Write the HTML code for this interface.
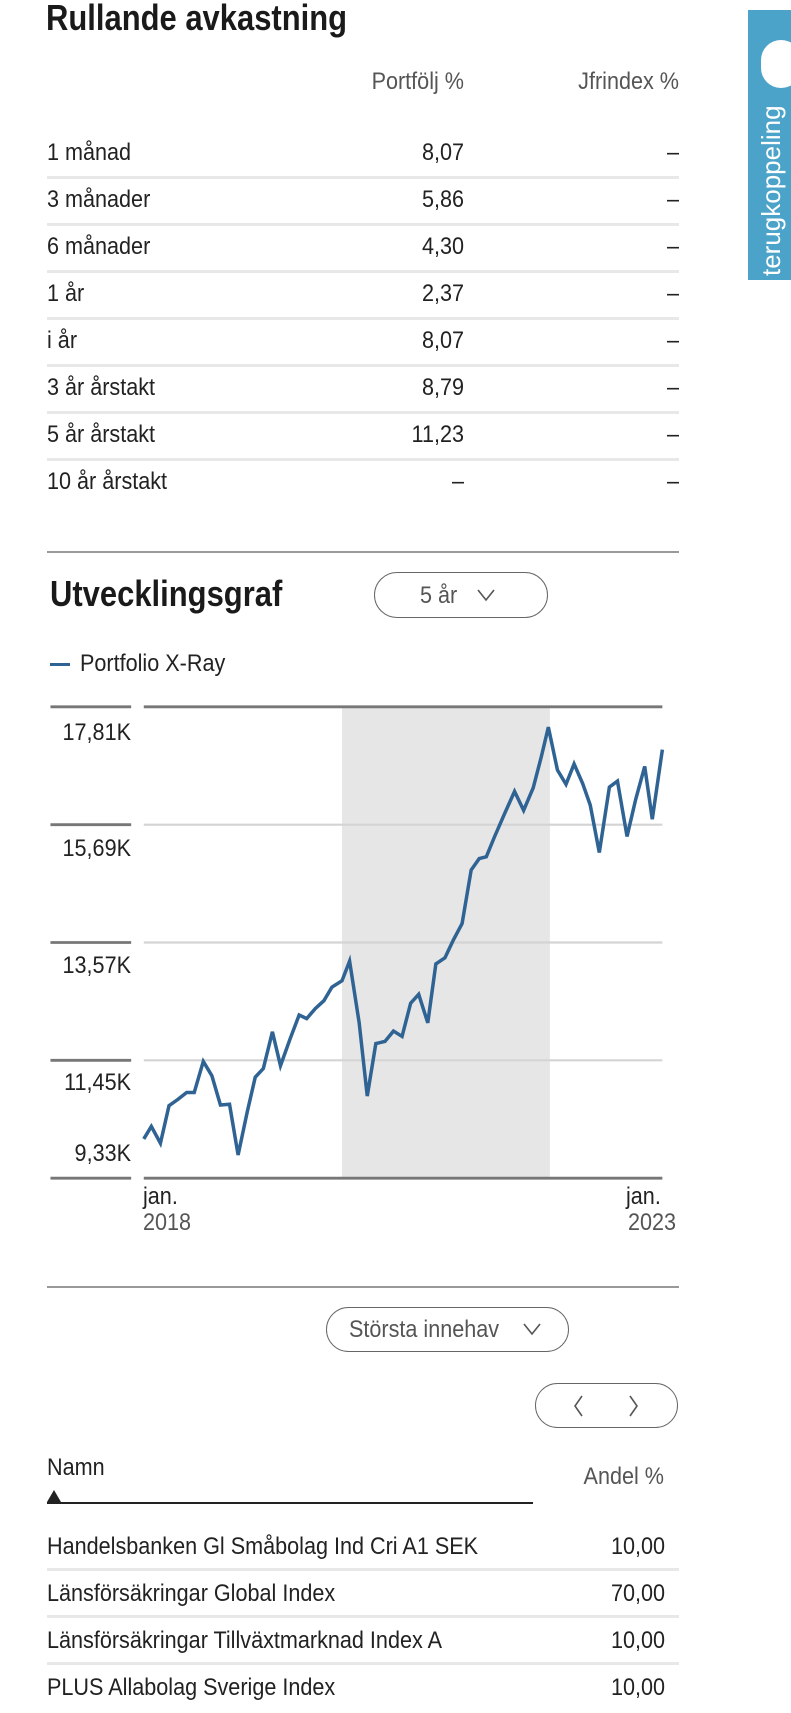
<!DOCTYPE html>
<html><head><meta charset="utf-8">
<style>
*{margin:0;padding:0;box-sizing:border-box}
body{width:791px;height:1713px;background:#fff;position:relative;overflow:hidden;font-family:"Liberation Sans",sans-serif;color:#222}
.a{position:absolute;white-space:nowrap;line-height:1}
.t{font-size:24px;transform:scaleX(.9);transform-origin:0 0}
.g{color:#555}
.r{text-align:right;transform-origin:100% 0}
.sep{position:absolute;left:47px;width:632px;height:3px;background:#e8e8e8}
.h{font-weight:bold;font-size:36px;color:#1a1a1a;transform:scaleX(.86);transform-origin:0 0}
.pill{position:absolute;border:1.5px solid #666;border-radius:24px}
</style></head><body>
<div class="a h" style="left:46px;top:0px">Rullande avkastning</div>
<div class="a t g r" style="left:300px;width:164px;top:70px">Portfölj %</div>
<div class="a t g r" style="left:500px;width:179px;top:70px">Jfrindex %</div>

<div class="a t" style="left:47px;top:141px">1 månad</div><div class="a t r" style="left:364px;width:100px;top:141px">8,07</div><div class="a t r" style="left:600px;width:79px;top:141px">–</div>
<div class="sep" style="top:176px"></div>
<div class="a t" style="left:47px;top:188px">3 månader</div><div class="a t r" style="left:364px;width:100px;top:188px">5,86</div><div class="a t r" style="left:600px;width:79px;top:188px">–</div>
<div class="sep" style="top:223px"></div>
<div class="a t" style="left:47px;top:235px">6 månader</div><div class="a t r" style="left:364px;width:100px;top:235px">4,30</div><div class="a t r" style="left:600px;width:79px;top:235px">–</div>
<div class="sep" style="top:270px"></div>
<div class="a t" style="left:47px;top:282px">1 år</div><div class="a t r" style="left:364px;width:100px;top:282px">2,37</div><div class="a t r" style="left:600px;width:79px;top:282px">–</div>
<div class="sep" style="top:317px"></div>
<div class="a t" style="left:47px;top:329px">i år</div><div class="a t r" style="left:364px;width:100px;top:329px">8,07</div><div class="a t r" style="left:600px;width:79px;top:329px">–</div>
<div class="sep" style="top:364px"></div>
<div class="a t" style="left:47px;top:376px">3 år årstakt</div><div class="a t r" style="left:364px;width:100px;top:376px">8,79</div><div class="a t r" style="left:600px;width:79px;top:376px">–</div>
<div class="sep" style="top:411px"></div>
<div class="a t" style="left:47px;top:423px">5 år årstakt</div><div class="a t r" style="left:364px;width:100px;top:423px">11,23</div><div class="a t r" style="left:600px;width:79px;top:423px">–</div>
<div class="sep" style="top:458px"></div>
<div class="a t" style="left:47px;top:470px">10 år årstakt</div><div class="a t r" style="left:364px;width:100px;top:470px">–</div><div class="a t r" style="left:600px;width:79px;top:470px">–</div>

<div style="position:absolute;left:47px;top:551px;width:632px;height:2px;background:#999"></div>

<div class="a h" style="left:50px;top:576px">Utvecklingsgraf</div>
<div class="pill" style="left:374px;top:572px;width:174px;height:46px"></div>
<div class="a t g" style="left:420px;top:584px">5 år</div>
<svg style="position:absolute;left:476px;top:588px" width="20" height="14"><polyline points="2,2 10,12 18,2" fill="none" stroke="#555" stroke-width="1.6"/></svg>

<div style="position:absolute;left:50px;top:663px;width:20px;height:3px;background:#2f6393"></div>
<div class="a t" style="left:80px;top:652px">Portfolio X-Ray</div>

<svg style="position:absolute;left:0;top:680px" width="791" height="560" viewBox="0 0 1568 1568" preserveAspectRatio="none">
<rect x="678" y="75" width="412" height="1320" fill="#e6e6e6"/>
<g stroke="#d4d4d4" stroke-width="6"><line x1="285" y1="405" x2="1313" y2="405"/><line x1="285" y1="735" x2="1313" y2="735"/><line x1="285" y1="1065" x2="1313" y2="1065"/></g>
<g stroke="#777" stroke-width="8"><line x1="285" y1="75" x2="1313" y2="75"/><line x1="285" y1="1395" x2="1313" y2="1395"/>
<line x1="100" y1="75" x2="260" y2="75"/><line x1="100" y1="405" x2="260" y2="405"/><line x1="100" y1="735" x2="260" y2="735"/><line x1="100" y1="1065" x2="260" y2="1065"/><line x1="100" y1="1395" x2="260" y2="1395"/></g>
<polyline fill="none" stroke="#2f6393" vector-effect="non-scaling-stroke" points="285,1285 300,1250 318,1297 335,1192 352,1175 370,1155 385,1155 403,1068 420,1108 437,1190 455,1188 472,1330 490,1210 506,1112 522,1088 540,985 556,1080 575,1005 593,938 608,948 625,920 642,898 658,860 678,842 693,787 712,960 728,1165 745,1018 763,1012 780,983 797,998 814,905 830,880 848,960 864,795 882,778 898,730 916,682 934,532 950,500 964,495 980,440 1000,375 1020,312 1038,365 1057,302 1073,215 1087,132 1105,252 1122,292 1138,235 1155,290 1170,350 1188,483 1208,300 1224,283 1243,438 1260,335 1278,242 1293,390 1313,195" style="stroke-width:3.5px"/>
</svg>
<div class="a t r" style="left:30px;width:101px;top:721px">17,81K</div>
<div class="a t r" style="left:30px;width:101px;top:837px">15,69K</div>
<div class="a t r" style="left:30px;width:101px;top:954px">13,57K</div>
<div class="a t r" style="left:30px;width:101px;top:1071px">11,45K</div>
<div class="a t r" style="left:30px;width:101px;top:1142px">9,33K</div>
<div class="a t" style="left:143px;top:1185px">jan.</div>
<div class="a t g" style="left:143px;top:1211px">2018</div>
<div class="a t" style="left:626px;top:1185px">jan.</div>
<div class="a t g" style="left:628px;top:1211px">2023</div>

<div style="position:absolute;left:47px;top:1286px;width:632px;height:2px;background:#999"></div>

<div class="pill" style="left:326px;top:1307px;width:243px;height:45px"></div>
<div class="a t g" style="left:349px;top:1318px">Största innehav</div>
<svg style="position:absolute;left:522px;top:1322px" width="20" height="14"><polyline points="2,2 10,12 18,2" fill="none" stroke="#555" stroke-width="1.6"/></svg>

<div class="pill" style="left:535px;top:1383px;width:143px;height:45px"></div>
<svg style="position:absolute;left:570px;top:1393px" width="80" height="26"><polyline points="12,3 5,13 12,23" fill="none" stroke="#555" stroke-width="1.6"/><polyline points="60,3 67,13 60,23" fill="none" stroke="#555" stroke-width="1.6"/></svg>

<div class="a t" style="left:47px;top:1456px">Namn</div>
<div class="a t g r" style="left:560px;width:104px;top:1465px">Andel %</div>
<svg style="position:absolute;left:46px;top:1489px" width="490" height="16"><polygon points="1,13 8,1 15,13" fill="#222"/><line x1="1" y1="14" x2="487" y2="14" stroke="#222" stroke-width="2"/></svg>

<div class="a t" style="left:47px;top:1535px">Handelsbanken Gl Småbolag Ind Cri A1 SEK</div><div class="a t r" style="left:560px;width:105px;top:1535px">10,00</div>
<div class="sep" style="top:1568px"></div>
<div class="a t" style="left:47px;top:1582px">Länsförsäkringar Global Index</div><div class="a t r" style="left:560px;width:105px;top:1582px">70,00</div>
<div class="sep" style="top:1615px"></div>
<div class="a t" style="left:47px;top:1629px">Länsförsäkringar Tillväxtmarknad Index A</div><div class="a t r" style="left:560px;width:105px;top:1629px">10,00</div>
<div class="sep" style="top:1662px"></div>
<div class="a t" style="left:47px;top:1676px">PLUS Allabolag Sverige Index</div><div class="a t r" style="left:560px;width:105px;top:1676px">10,00</div>

<div style="position:absolute;left:748px;top:10px;width:43px;height:270px;background:#4ba3c9;overflow:hidden">
<div style="position:absolute;left:13px;top:30px;width:40px;height:48px;border-radius:20px;background:#fff"></div>
<div class="a" style="color:#fff;font-size:26px;font-family:'Liberation Sans',sans-serif;transform:rotate(-90deg);transform-origin:0 0;left:10px;top:266px">terugkoppeling</div>
</div>
</body></html>
